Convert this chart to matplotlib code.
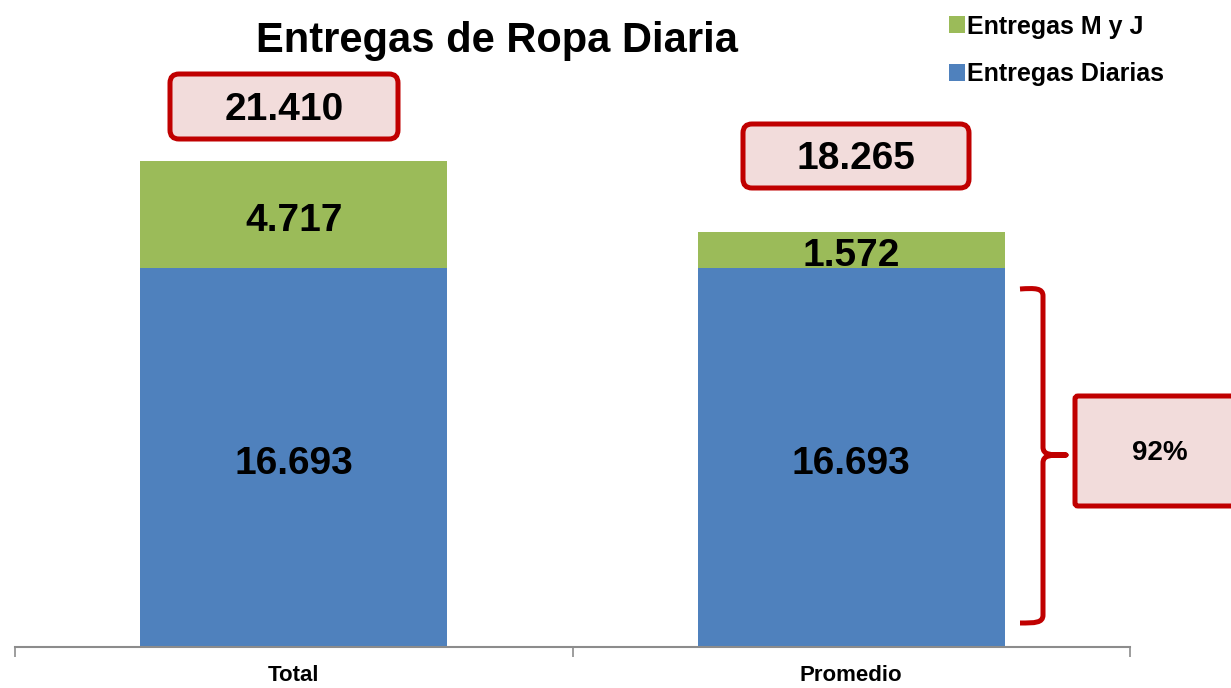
import matplotlib
matplotlib.use("Agg")
import matplotlib.pyplot as plt
from matplotlib.patches import FancyBboxPatch, PathPatch
from matplotlib.path import Path
from matplotlib.transforms import Affine2D

plt.rcParams['font.family'] = ['Liberation Sans', 'DejaVu Sans']

categories = ["Total", "Promedio"]
diarias = [16693, 16693]
myj = [4717, 1572]
totals_labels = ["21.410", "18.265"]
share_label = "92%"
series_names = ["Entregas Diarias", "Entregas M y J"]
title = "Entregas de Ropa Diaria"

BLUE = "#4F81BD"
GREEN = "#9BBB59"
RED = "#C00000"
PINK = "#F2DCDB"

W, H = 1231, 688
fig = plt.figure(figsize=(W / 100, H / 100), dpi=100)
ax = fig.add_axes([15 / W, (H - 647) / H, (1130 - 15) / W, (647 - 20) / H])

def fmt(v):
    return f"{v:,}".replace(",", ".")

x = list(range(len(categories)))
b1 = ax.bar(x, diarias, width=0.55, color=BLUE, label=series_names[0], zorder=2)
b2 = ax.bar(x, myj, bottom=diarias, width=0.55, color=GREEN, label=series_names[1], zorder=2)

for xi, d, m in zip(x, diarias, myj):
    ax.text(xi, d / 2 - 280, fmt(d), ha="center", va="center", fontsize=28, fontweight="bold", color="black")
    ax.text(xi, d + m / 2 - (280 if m > 3000 else 250), fmt(m), ha="center", va="center",
            fontsize=28, fontweight="bold", color="black", zorder=3)

ax.set_xlim(-0.5, 1.5)
ax.set_ylim(0, (647 - 20) / (379 / 16693))
ax.set_xticks([-0.5, 0.5, 1.5])
ax.set_xticklabels([])
ax.set_xticks(x, minor=True)
ax.set_xticklabels(categories, minor=True, fontsize=16, fontweight="bold")
ax.tick_params(axis="x", which="minor", length=0, pad=13)
ax.tick_params(axis="x", which="major", length=7, color="#8C8C8C", width=1.2)
ax.set_yticks([])
for s in ["top", "right", "left"]:
    ax.spines[s].set_visible(False)
ax.spines["bottom"].set_color("#8C8C8C")
ax.spines["bottom"].set_linewidth(1.5)
ax.spines["bottom"].set_zorder(3)

# pixel coordinate transform (origin top-left)
px = Affine2D().scale(1 / W, -1 / H).translate(0, 1) + fig.transFigure

fig.text(497 / W, 1 - 41 / H, title, ha="center", va="center", fontsize=30, fontweight="bold")

# total boxes
boxes = [(170, 74, 228, 65), (743, 124, 226, 64)]
for (bx, by, bw, bh), lab in zip(boxes, totals_labels):
    p = FancyBboxPatch((bx, by), bw, bh, boxstyle="round,pad=0,rounding_size=9",
                       transform=px, facecolor=PINK, edgecolor=RED, linewidth=3.6, figure=fig)
    fig.patches.append(p)
    fig.text((bx + bw / 2) / W, 1 - (by + bh / 2 + 3) / H, lab, ha="center", va="center",
             fontsize=28, fontweight="bold")

# brace
verts = [
    (1020, 289), (1035, 288), (1043, 288), (1043, 296),
    (1043, 447),
    (1043, 455), (1050, 455), (1066, 455),
    (1050, 455), (1043, 455), (1043, 463),
    (1043, 615),
    (1043, 623), (1035, 623), (1020, 623),
]
codes = [Path.MOVETO, Path.CURVE4, Path.CURVE4, Path.CURVE4,
         Path.LINETO,
         Path.CURVE4, Path.CURVE4, Path.CURVE4,
         Path.CURVE4, Path.CURVE4, Path.CURVE4,
         Path.LINETO,
         Path.CURVE4, Path.CURVE4, Path.CURVE4]
brace = PathPatch(Path(verts, codes), transform=px, facecolor="none", edgecolor=RED,
                  linewidth=3.6, capstyle="butt", joinstyle="round", figure=fig)
fig.patches.append(brace)

p = FancyBboxPatch((1075, 396), 170, 110, boxstyle="round,pad=0,rounding_size=3",
                   transform=px, facecolor=PINK, edgecolor=RED, linewidth=3.6, figure=fig)
fig.patches.append(p)
fig.text(1160 / W, 1 - 453 / H, share_label, ha="center", va="center", fontsize=20, fontweight="bold")

# legend
leg = fig.legend(handles=[b2, b1], labels=[series_names[1], series_names[0]],
                 loc="upper left", bbox_to_anchor=(931 / W, 1 + 3 / H), frameon=False,
                 prop={"size": 18, "weight": "bold"}, handlelength=0.65, handleheight=0.65,
                 handletextpad=0.1, labelspacing=0.95, borderpad=0.2)

fig.savefig("out.png", dpi=100)
